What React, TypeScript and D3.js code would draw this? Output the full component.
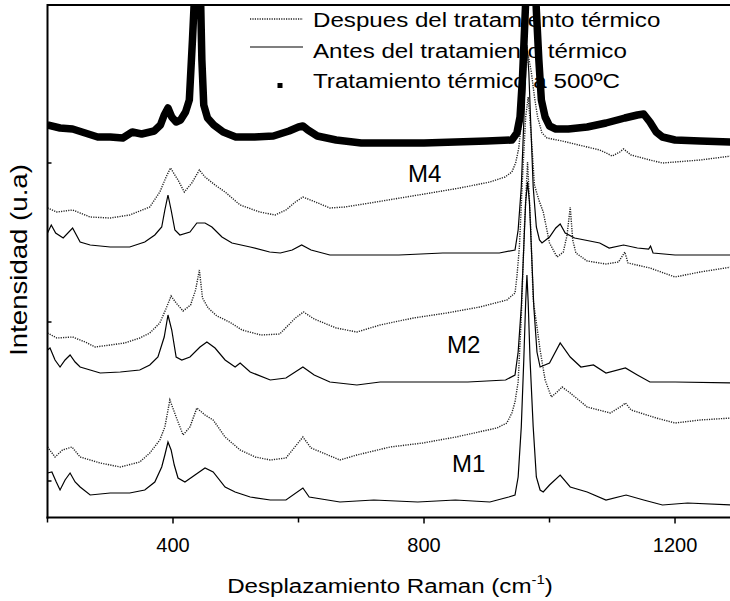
import React from 'react';
import * as d3 from 'd3';

type Pt = [number, number];

// x axis (Raman shift, cm-1)
const xDomain: [number, number] = [200, 1290];
const xMajorTicks = [400, 800, 1200];
const xMinorTicks = [200, 600, 1000];
// y axis has no labels, only inner ticks (arbitrary units)
const yDomain: [number, number] = [0, 512];
const yTicks = [36, 195, 354];

// Tratamiento termico a 500 C (thick square markers)
const t500: Pt[] = [
  [200, 392], [220, 389], [240, 388], [260, 384], [280, 380], [300, 380], [320, 379], [335, 385],
  [350, 383], [370, 386], [380, 392], [386, 402], [392, 409], [398, 400], [405, 395], [412, 397],
  [420, 405], [426, 417], [431, 477], [434, 517], [439, 667], [444, 517], [446, 457], [449, 412],
  [455, 399], [465, 392], [480, 385], [500, 380], [530, 380], [560, 381], [585, 386], [600, 390],
  [607, 391], [615, 387], [630, 381], [660, 377], [700, 374], [750, 374], [800, 374], [850, 375],
  [900, 376], [940, 377], [948, 384], [953, 400], [957, 440], [961, 500], [970, 637], [979, 507],
  [983, 457], [987, 417], [993, 400], [1000, 391], [1010, 388], [1030, 388], [1060, 390],
  [1090, 394], [1120, 399], [1140, 402], [1150, 403], [1160, 395], [1170, 385], [1180, 380],
  [1200, 377], [1240, 376], [1290, 375],
];

// M4 despues (dotted)
const m4After: Pt[] = [
  [200, 309], [215, 305], [240, 307], [268, 300], [300, 299], [331, 302], [363, 310], [379, 325],
  [389, 340], [396, 349], [408, 337], [418, 325], [430, 334], [442, 347], [451, 340], [467, 332],
  [483, 325], [507, 312], [538, 305], [563, 302], [580, 307], [595, 315], [607, 320], [627, 315],
  [650, 309], [674, 310], [714, 314], [762, 319], [810, 324], [857, 329], [905, 335], [929, 340],
  [940, 345], [946, 354], [951, 369], [956, 400], [961, 445], [966, 462], [971, 445], [976, 420],
  [981, 400], [988, 384], [996, 379], [1020, 376], [1040, 373], [1060, 370], [1080, 367],
  [1100, 361], [1112, 365], [1118, 368], [1130, 362], [1160, 357], [1180, 354], [1200, 355],
  [1240, 357], [1290, 361],
];

// M4 antes (solid)
const m4Before: Pt[] = [
  [200, 284], [206, 292], [213, 284], [225, 279], [240, 289], [252, 275], [268, 272], [300, 270],
  [331, 270], [355, 275], [371, 282], [382, 290], [387, 307], [392, 322], [397, 307], [403, 287],
  [411, 282], [427, 285], [438, 294], [451, 294], [462, 290], [478, 280], [494, 274], [523, 270],
  [554, 265], [571, 264], [590, 267], [605, 272], [620, 267], [650, 262], [700, 262], [760, 262],
  [830, 264], [880, 264], [920, 264], [945, 267], [950, 287], [955, 330], [959, 395], [962, 445],
  [964, 472], [967, 445], [970, 395], [974, 330], [979, 290], [984, 277], [988, 274], [1000, 280],
  [1010, 289], [1017, 293], [1025, 284], [1040, 279], [1080, 274], [1095, 269], [1118, 272],
  [1140, 269], [1158, 268], [1161, 271], [1165, 264], [1200, 262], [1290, 262],
];

// M2 despues (dotted)
const m2After: Pt[] = [
  [200, 184], [215, 179], [240, 180], [260, 175], [276, 170], [300, 172], [323, 174], [347, 179],
  [363, 184], [379, 194], [388, 207], [397, 221], [405, 214], [416, 206], [428, 212], [436, 227],
  [442, 247], [447, 219], [456, 209], [470, 201], [490, 195], [510, 187], [540, 182], [570, 183],
  [595, 199], [608, 205], [625, 198], [660, 189], [693, 185], [730, 192], [783, 199], [836, 204],
  [889, 210], [932, 217], [945, 224], [948, 240], [952, 270], [957, 340], [962, 400], [966, 420],
  [971, 380], [976, 332], [983, 317], [990, 305], [1000, 274], [1012, 260], [1022, 265],
  [1028, 282], [1033, 310], [1037, 277], [1042, 264], [1060, 256], [1090, 253], [1110, 255],
  [1120, 265], [1125, 254], [1160, 249], [1200, 240], [1240, 245], [1290, 250],
];

// M2 antes (solid)
const m2Before: Pt[] = [
  [200, 167], [204, 169], [212, 157], [220, 150], [228, 157], [236, 162], [244, 155], [252, 150],
  [268, 147], [284, 144], [316, 145], [347, 147], [363, 152], [376, 160], [386, 180], [392, 202],
  [398, 187], [405, 160], [414, 157], [427, 160], [443, 170], [454, 175], [467, 169], [483, 157],
  [499, 150], [507, 154], [523, 145], [555, 137], [580, 139], [607, 150], [625, 142], [650, 135],
  [693, 132], [730, 135], [800, 135], [870, 135], [930, 137], [945, 142], [950, 165], [955, 210],
  [959, 270], [962, 315], [965, 335], [968, 315], [971, 270], [975, 210], [980, 165], [985, 150],
  [1000, 154], [1017, 174], [1033, 160], [1050, 150], [1070, 152], [1090, 144], [1121, 149],
  [1140, 142], [1160, 135], [1200, 135], [1290, 134],
];

// M1 despues (dotted)
const m1After: Pt[] = [
  [200, 70], [212, 60], [224, 67], [239, 70], [252, 60], [284, 54], [316, 50], [347, 55],
  [363, 64], [379, 77], [387, 90], [395, 117], [405, 100], [416, 82], [427, 90], [438, 109],
  [451, 102], [464, 97], [483, 80], [507, 67], [531, 60], [555, 57], [580, 59], [607, 80],
  [620, 69], [666, 57], [693, 62], [746, 70], [798, 74], [851, 80], [916, 89], [932, 94],
  [940, 104], [945, 115], [950, 135], [955, 200], [960, 290], [965, 355], [970, 290], [974, 217],
  [980, 190], [985, 167], [993, 137], [1003, 120], [1012, 125], [1020, 130], [1033, 124],
  [1060, 110], [1097, 104], [1115, 111], [1121, 114], [1130, 107], [1170, 99], [1200, 94],
  [1240, 97], [1290, 99],
];

// M1 antes (solid)
const m1Before: Pt[] = [
  [200, 44], [207, 45], [214, 35], [220, 27], [228, 37], [236, 44], [244, 35], [252, 30],
  [268, 22], [300, 24], [331, 24], [355, 27], [371, 35], [382, 50], [387, 62], [392, 75],
  [397, 67], [402, 52], [408, 39], [419, 35], [435, 42], [451, 49], [464, 45], [483, 30],
  [499, 25], [523, 20], [555, 17], [580, 17], [607, 29], [617, 20], [666, 15], [720, 17],
  [790, 15], [850, 17], [905, 15], [935, 20], [945, 22], [950, 40], [955, 90], [959, 157],
  [962, 215], [964, 242], [966, 215], [969, 157], [974, 90], [979, 40], [985, 27], [990, 25],
  [1000, 32], [1017, 42], [1033, 30], [1060, 25], [1090, 17], [1122, 22], [1150, 17],
  [1180, 12], [1220, 14], [1290, 12],
];

const legendLabels = [
  'Despues del tratamiento térmico',
  'Antes del tratamiento térmico',
  'Tratamiento térmico a 500ºC',
];
const sampleLabels = ['M4', 'M2', 'M1'];

const font = '"Liberation Sans", Arial, Helvetica, sans-serif';

export default function App() {
  const width = 730;
  const height = 601;
  const left = 47.5;
  const top = 5;
  const bottom = 517.5;

  const x = d3.scaleLinear().domain(xDomain).range([left, 731.5]);
  const y = d3.scaleLinear().domain(yDomain).range([517, top]);
  const line = d3.line<Pt>().x((d) => x(d[0])).y((d) => y(d[1]));

  const dotted = { fill: 'none', stroke: '#222', strokeWidth: 1.4, strokeDasharray: '1.2 1.2' };
  const solid = { fill: 'none', stroke: '#000', strokeWidth: 1.2 };

  return (
    <div style={{ position: 'absolute', left: 0, top: 0 }}>
      <svg width={width} height={height} style={{ display: 'block', background: '#fff' }} fontFamily={font}>
        <defs>
          <clipPath id="plotClip">
            <rect x={left} y={top} width={731.5 - left} height={bottom - top} />
          </clipPath>
        </defs>

        {/* legend (drawn under the spectra) */}
        <g>
          <line x1={250} x2={303} y1={19} y2={19} {...dotted} />
          <line x1={250} x2={303} y1={47} y2={47} {...solid} />
          <rect x={277.5} y={83} width={5} height={5} fill="#000" />
          {legendLabels.map((t, i) => (
            <g key={t} transform={`translate(313,${27 + i * 30.5}) scale(1.15,1)`}>
              <text fontSize={21} fill="#000">{t}</text>
            </g>
          ))}
        </g>

        {/* sample labels */}
        <text x={408} y={182} fontSize={24}>{sampleLabels[0]}</text>
        <text x={447} y={353} fontSize={24}>{sampleLabels[1]}</text>
        <text x={452} y={472} fontSize={24}>{sampleLabels[2]}</text>

        <g clipPath="url(#plotClip)">
          <path d={line(m1Before) || ''} {...solid} />
          <path d={line(m1After) || ''} {...dotted} />
          <path d={line(m2Before) || ''} {...solid} />
          <path d={line(m2After) || ''} {...dotted} />
          <path d={line(m4Before) || ''} {...solid} />
          <path d={line(m4After) || ''} {...dotted} />
          <path d={line(t500) || ''} fill="none" stroke="#000" strokeWidth={7.5} strokeLinejoin="round" />
        </g>

        {/* frame */}
        <line x1={left} x2={width} y1={top} y2={top} stroke="#000" strokeWidth={2} />
        <line x1={left} x2={left} y1={top - 1} y2={bottom + 1} stroke="#000" strokeWidth={2} />
        <line x1={left - 1} x2={width} y1={bottom} y2={bottom} stroke="#000" strokeWidth={2} />

        {/* x ticks */}
        {xMajorTicks.map((t) => (
          <g key={'M' + t}>
            <line x1={x(t)} x2={x(t)} y1={bottom} y2={bottom + 6} stroke="#000" strokeWidth={1.5} />
            <text x={x(t)} y={552} fontSize={20} textAnchor="middle">{t}</text>
          </g>
        ))}
        {xMinorTicks.map((t) => (
          <line key={'m' + t} x1={x(t)} x2={x(t)} y1={bottom} y2={bottom + 5} stroke="#000" strokeWidth={1.5} />
        ))}

        {/* y ticks (inward) */}
        {yTicks.map((t) => (
          <line key={'y' + t} x1={left} x2={left + 4} y1={y(t)} y2={y(t)} stroke="#000" strokeWidth={1.5} />
        ))}

        {/* axis titles */}
        <g transform="translate(390,593) scale(1.15,1)">
          <text fontSize={21} textAnchor="middle">
            Desplazamiento Raman (cm<tspan fontSize={13} dy={-9}>-1</tspan>
            <tspan dy={9}>)</tspan>
          </text>
        </g>
        <g transform="translate(27,260) rotate(-90) scale(1.2,1)">
          <text fontSize={23} textAnchor="middle">Intensidad (u.a)</text>
        </g>
      </svg>
    </div>
  );
}
